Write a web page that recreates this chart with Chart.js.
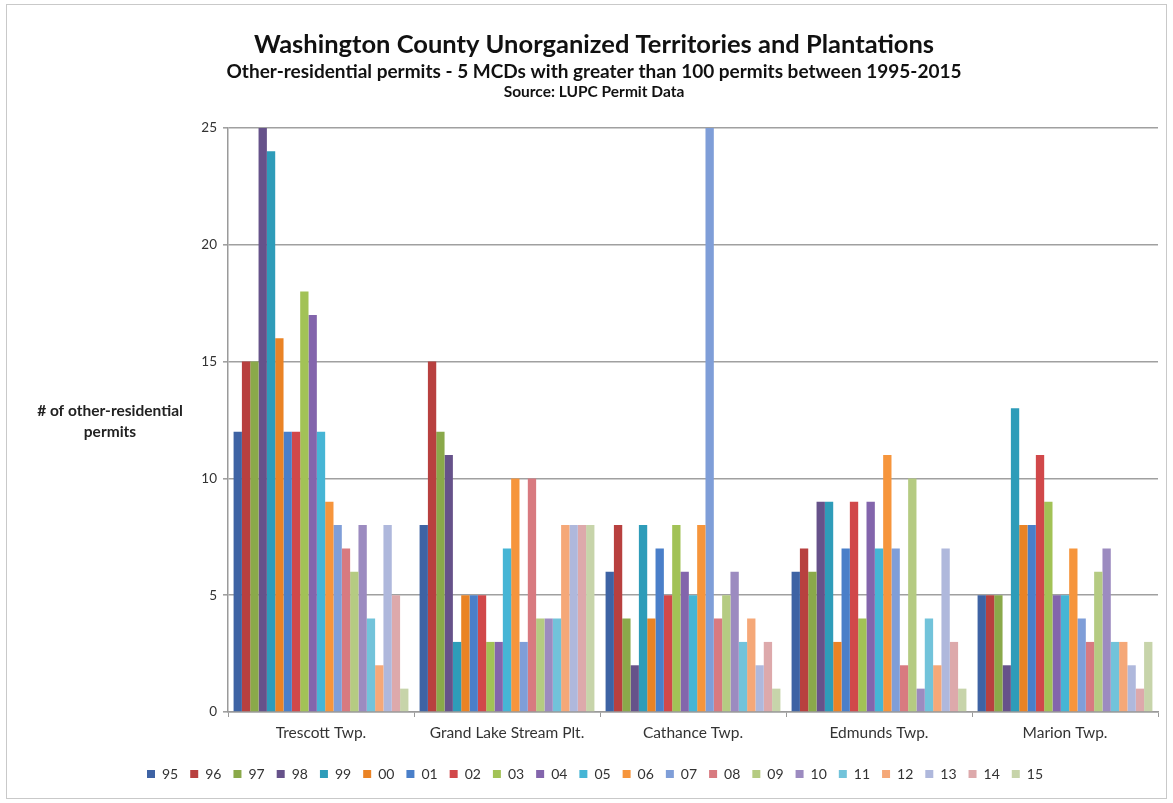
<!DOCTYPE html>
<html>
<head>
<meta charset="utf-8">
<title>Washington County Unorganized Territories and Plantations</title>
<script src="https://cdn.jsdelivr.net/npm/chart.js@4/dist/chart.umd.min.js"></script>
<style>
  html, body { margin: 0; padding: 0; background: #ffffff; }
  #wrap { position: relative; width: 1173px; height: 803px; }
  canvas { display: block; }
</style>
</head>
<body>
<div id="wrap"><canvas id="chart" width="1173" height="803"></canvas></div>
<script>
// Townships (minor civil divisions) shown on the x axis
const townships = ['Trescott Twp.', 'Grand Lake Stream Plt.', 'Cathance Twp.', 'Edmunds Twp.', 'Marion Twp.'];

// Permit years, 1995-2015 (two-digit labels)
const years = ['95','96','97','98','99','00','01','02','03','04','05','06','07','08','09','10','11','12','13','14','15'];

// Other-residential permits per year, one array per township (same order as years)
const trescott       = [12, 15, 15, 25, 24, 16, 12, 12, 18, 17, 12, 9, 8, 7, 6, 8, 4, 2, 8, 5, 1];
const grandLake      = [8, 15, 12, 11, 3, 5, 5, 5, 3, 3, 7, 10, 3, 10, 4, 4, 4, 8, 8, 8, 8];
const cathance       = [6, 8, 4, 2, 8, 4, 7, 5, 8, 6, 5, 8, 25, 4, 5, 6, 3, 4, 2, 3, 1];
const edmunds        = [6, 7, 6, 9, 9, 3, 7, 9, 4, 9, 7, 11, 7, 2, 10, 1, 4, 2, 7, 3, 1];
const marion         = [5, 5, 5, 2, 13, 8, 8, 11, 9, 5, 5, 7, 4, 3, 6, 7, 3, 3, 2, 1, 3];

// Y axis ticks
const yTicks = [0, 5, 10, 15, 20, 25];

// Colour for each year series
const yearColors = [
  '#3E63A4', '#B8403F', '#8AA94A', '#66528A', '#2E9CB9', '#EA8325',
  '#4A7FC9', '#D1484A', '#A2C256', '#8365AC', '#46B5D5', '#F6953C',
  '#7F9ED8', '#D87A80', '#B5CB82', '#9C8BC0', '#72C3DA', '#F5A878',
  '#AFB8DC', '#DDA9AB', '#C7D4AA'
];

const byTownship = [trescott, grandLake, cathance, edmunds, marion];

const datasets = years.map((yr, i) => ({
  label: yr,
  data: byTownship.map(t => t[i]),
  backgroundColor: yearColors[i],
  borderWidth: 0,
  categoryPercentage: 0.94,
  barPercentage: 1.0
}));

const FONT = "Lato, 'Open Sans', 'DejaVu Sans', sans-serif";

// Titles, y-axis caption and the outer frame
const decorations = {
  id: 'decorations',
  beforeDraw(chart) {
    const ctx = chart.ctx;
    ctx.save();
    ctx.fillStyle = '#ffffff';
    ctx.fillRect(0, 0, chart.width, chart.height);
    ctx.strokeStyle = '#c9c9c9';
    ctx.lineWidth = 1;
    ctx.strokeRect(6.5, 4.5, chart.width - 13, chart.height - 9);
    ctx.restore();
  },
  afterDraw(chart) {
    const ctx = chart.ctx;
    const area = chart.chartArea;
    ctx.save();
    ctx.fillStyle = '#111111';
    ctx.textAlign = 'center';
    ctx.textBaseline = 'middle';
    const cx = 594;
    ctx.font = "bold 25.5px " + FONT;
    ctx.fillText('Washington County Unorganized Territories and Plantations', cx, 45);
    ctx.font = "bold 19px " + FONT;
    ctx.fillText('Other-residential permits - 5 MCDs with greater than 100 permits between 1995-2015', cx, 72);
    ctx.font = "bold 15.5px " + FONT;
    ctx.fillText('Source: LUPC Permit Data', cx, 92);

    const my = (area.top + area.bottom) / 2;
    ctx.font = "bold 15.5px " + FONT;
    ctx.fillStyle = '#222222';
    ctx.fillText('# of other-residential', 110, my - 9);
    ctx.fillText('permits', 110, my + 12);
    ctx.restore();
  }
};

new Chart(document.getElementById('chart'), {
  type: 'bar',
  data: { labels: townships, datasets },
  plugins: [decorations],
  options: {
    responsive: false,
    animation: false,
    layout: { padding: { top: 128, right: 15, bottom: 12, left: 32 } },
    plugins: {
      title: { display: false },
      tooltip: { enabled: false },
      legend: {
        position: 'bottom',
        labels: {
          boxWidth: 8,
          boxHeight: 8,
          padding: 12,
          color: '#333333',
          font: { family: FONT, size: 14 }
        }
      }
    },
    scales: {
      x: {
        afterFit(scale) { scale.height = 43; },
        grid: {
          offset: true,
          drawOnChartArea: false,
          drawTicks: true,
          tickLength: 5,
          color: '#9a9a9a'
        },
        border: { color: '#9a9a9a', width: 1.5 },
        ticks: {
          padding: 7,
          color: '#333333',
          font: { family: FONT, size: 15.5 }
        }
      },
      y: {
        min: 0,
        max: 25,
        afterFit(scale) { scale.width = 196; },
        afterBuildTicks(scale) { scale.ticks = yTicks.map(v => ({ value: v })); },
        grid: {
          color: '#a0a0a0',
          lineWidth: 1.6,
          tickLength: 5
        },
        border: { color: '#9a9a9a', width: 1.5 },
        ticks: {
          padding: 6,
          color: '#333333',
          font: { family: FONT, size: 13.5 }
        }
      }
    }
  }
});
</script>
</body>
</html>
